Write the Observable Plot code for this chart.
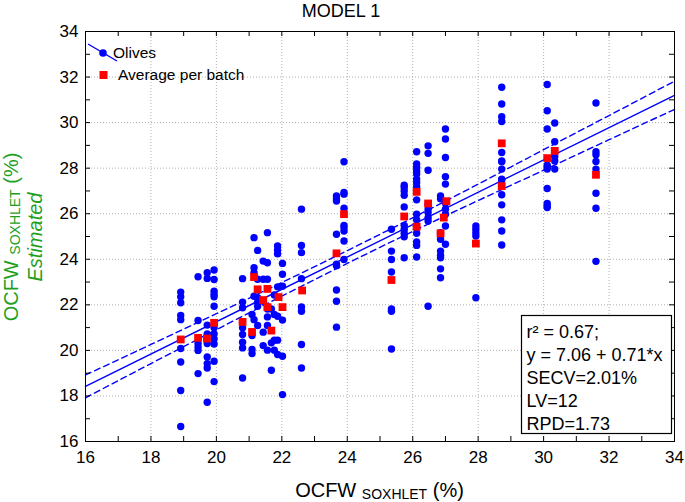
<!DOCTYPE html>
<html>
<head>
<meta charset="utf-8">
<script src="https://cdn.jsdelivr.net/npm/d3@7"></script>
<script src="https://cdn.jsdelivr.net/npm/@observablehq/plot@0.6"></script>
<style>
  html, body { margin: 0; padding: 0; background: #fff; }
  #chart { width: 685px; height: 502px; }
</style>
</head>
<body>
<div id="chart"></div>
<script>
// ---- Data ----
const title = "MODEL 1";
const xTicks = [16, 18, 20, 22, 24, 26, 28, 30, 32, 34];
const yTicks = [16, 18, 20, 22, 24, 26, 28, 30, 32, 34];
const minorTicks = [17, 18, 19, 20, 21, 22, 23, 24, 25, 26, 27, 28, 29, 30, 31, 32, 33];

// Olives: columns of [x, [y values]]
const olivesColumns = [
  [18.91, [22.56, 22.35, 22.09, 21.53, 21.35, 20.08, 19.49, 18.24, 16.66]],
  [19.44, [23.23, 21.31, 20.30, 20.15, 20.00, 18.98]],
  [19.72, [23.41, 23.16, 21.11, 20.72, 20.30, 19.71, 19.42, 19.23, 17.72]],
  [19.93, [23.53, 23.11, 22.60, 22.46, 22.35, 21.94, 20.99, 20.72, 20.50, 20.28, 19.52, 18.63]],
  [20.80, [23.15, 22.12, 21.87, 20.99, 20.70, 20.36, 20.11, 18.79]],
  [21.09, [21.58, 20.65, 20.04, 19.86]],
  [21.15, [24.95, 23.63, 23.41, 22.38, 21.35]],
  [21.26, [24.39, 23.12, 22.31, 22.12, 21.94, 21.09]],
  [21.43, [23.92, 23.12, 22.16, 20.80, 20.21]],
  [21.56, [25.17, 23.85, 23.12, 21.82, 21.47, 21.09, 20.01]],
  [21.68, [21.82, 20.33, 19.13]],
  [21.77, [22.43, 21.58, 20.45, 20.01]],
  [21.87, [24.58, 24.41, 24.24, 22.79, 21.50, 20.45, 19.82]],
  [22.02, [23.82, 23.34, 22.82, 21.33, 19.74, 18.06]],
  [22.60, [26.20, 24.61, 24.29, 23.15, 21.91, 21.72, 20.26, 19.23]],
  [23.67, [26.78, 26.66, 26.56, 25.10, 23.78, 23.72, 22.65, 22.16, 21.02]],
  [23.90, [28.28, 26.93, 26.86, 26.24, 25.49, 25.39, 25.24, 24.80, 23.99]],
  [25.35, [25.32, 24.36, 23.99, 23.44, 21.82, 21.72, 20.06]],
  [25.74, [27.25, 27.15, 27.00, 26.81, 26.30, 25.49, 25.32, 25.14, 24.99, 24.07]],
  [26.12, [28.72, 28.18, 28.03, 27.88, 27.74, 27.52, 27.37, 27.19, 26.61, 25.98, 25.73, 25.39, 25.14, 24.76, 24.61, 24.10]],
  [26.47, [28.98, 28.65, 27.91, 26.42, 26.20, 26.05, 25.83, 25.68, 21.94]],
  [26.85, [26.78, 26.66, 25.17, 24.88, 24.36, 24.17, 24.07, 23.58, 23.19]],
  [27.00, [29.72, 29.28, 28.47, 27.62, 27.30, 26.46, 26.20, 25.98, 25.46, 24.66]],
  [27.93, [25.46, 25.32, 25.17, 25.02, 22.31]],
  [28.72, [31.55, 30.82, 30.26, 30.05, 28.69, 28.32, 28.28, 27.96, 27.52, 27.48, 26.83, 26.39, 25.73, 25.24, 24.63]],
  [30.11, [31.67, 30.52, 29.72, 28.13, 28.03, 27.96, 27.11, 26.45, 26.34, 26.27]],
  [30.34, [29.98, 29.16, 28.50, 28.32, 27.96]],
  [31.60, [30.86, 28.72, 28.59, 28.29, 27.96, 26.90, 26.24, 23.91]]
];

// Average per batch [x, y]
const batchAverages = [
  [18.91, 20.48], [19.44, 20.55], [19.71, 20.52], [19.93, 21.21], [20.80, 21.25],
  [21.09, 20.81], [21.15, 23.22], [21.26, 22.68], [21.56, 22.70], [21.43, 22.21],
  [21.90, 22.34], [21.56, 21.90], [22.02, 21.90], [21.68, 20.87], [22.62, 22.63],
  [23.67, 24.26], [23.90, 25.98], [25.35, 23.09], [25.74, 25.88], [26.12, 26.96],
  [26.12, 25.43], [26.47, 26.45], [27.03, 26.55], [26.95, 25.83], [26.85, 25.14],
  [27.93, 24.69], [28.72, 29.09], [28.72, 27.21], [30.11, 28.44], [30.34, 28.76],
  [31.60, 27.71]
];

// Fitted line y = 7.06 + 0.71*x (end points) and its confidence band
const fitX = [16, 34];
const fitY = [18.42, 31.20];
const bandX = [16, 18, 20, 22, 24, 26, 28, 30, 32, 34];
const bandUpper = [18.92, 20.26, 21.61, 22.98, 24.38, 25.82, 27.30, 28.81, 30.31, 31.82];
const bandLower = [17.92, 19.42, 20.91, 22.38, 23.82, 25.22, 26.58, 27.91, 29.25, 30.58];

const statsLines = ["r² = 0.67;", "y = 7.06 + 0.71*x", "SECV=2.01%", "LV=12", "RPD=1.73"];
const legendLabels = ["Olives", "Average per batch"];
const axisTitleMain = "OCFW";
const axisTitleSub = "SOXHLET";
const axisTitleUnit = "(%)";
const yTitleSecond = "Estimated";

// ---- Build tables ----
const olives = olivesColumns.flatMap(([x, ys]) => ys.map(y => ({x, y})));
const averages = batchAverages.map(([x, y]) => ({x, y}));
const fit = fitX.map((x, i) => ({x, y: fitY[i]}));
const upper = bandX.map((x, i) => ({x, y: bandUpper[i]}));
const lower = bandX.map((x, i) => ({x, y: bandLower[i]}));

const W = 685, H = 502;
const mL = 85, mR = 11, mT = 31, mB = 61;
const innerW = W - mL - mR, innerH = H - mT - mB;
const BLUE = "#0000ff", RED = "#ff0000", GREEN = "#1ea01e";
const FONT = "'Liberation Sans', Arial, Helvetica, sans-serif";

const plot = Plot.plot({
  width: W, height: H,
  marginLeft: mL, marginRight: mR, marginTop: mT, marginBottom: mB,
  x: {domain: [16, 34], label: null},
  y: {domain: [16, 34], label: null},
  style: {fontFamily: FONT, fontSize: "16px", background: "white", color: "black"},
  marks: [
    Plot.gridX(xTicks, {stroke: "#b0b0b0", strokeOpacity: 1, strokeDasharray: "1,2"}),
    Plot.gridY(yTicks, {stroke: "#b0b0b0", strokeOpacity: 1, strokeDasharray: "1,2"}),
    Plot.dot(olives, {x: "x", y: "y", r: 3.7, fill: BLUE, stroke: "none"}),
    Plot.line(upper, {x: "x", y: "y", stroke: BLUE, strokeWidth: 1.4, strokeDasharray: "6,4", curve: "natural"}),
    Plot.line(lower, {x: "x", y: "y", stroke: BLUE, strokeWidth: 1.4, strokeDasharray: "6,4", curve: "natural"}),
    Plot.line(fit, {x: "x", y: "y", stroke: BLUE, strokeWidth: 1.4}),
    Plot.dot(averages, {x: "x", y: "y", symbol: "square", r: 4.4, fill: RED, stroke: "none"}),
    // inward ticks on all sides
    Plot.tickX(minorTicks, {x: d => d, insetTop: innerH - 5, stroke: "black"}),
    Plot.tickX(minorTicks, {x: d => d, insetBottom: innerH - 5, stroke: "black"}),
    Plot.tickY(minorTicks, {y: d => d, insetRight: innerW - 5, stroke: "black"}),
    Plot.tickY(minorTicks, {y: d => d, insetLeft: innerW - 5, stroke: "black"}),
    Plot.axisX(xTicks, {tickSize: 0, tickPadding: 9, fontSize: 17, label: null}),
    Plot.axisY(yTicks, {tickSize: 0, tickPadding: 7, fontSize: 17, label: null}),
    Plot.frame({stroke: "black"}),
    // statistics box
    Plot.frame({fill: "white", stroke: "black", strokeWidth: 1.2, insetLeft: 436, insetRight: 3, insetTop: 284, insetBottom: 8}),
    Plot.text([statsLines.join("\n")], {frameAnchor: "top-left", dx: 441, dy: 345, textAnchor: "start", lineAnchor: "middle", lineHeight: 1.27, fontSize: 18, fill: "black"})
  ]
});

document.getElementById("chart").appendChild(plot);

// ---- Title, axis titles, legend (annotations) ----
const svg = d3.select(plot);
svg.append("text")
  .attr("x", 341).attr("y", 17)
  .attr("text-anchor", "middle")
  .style("font-family", FONT).style("font-size", "18px")
  .text(title);

function titleText(sel) {
  sel.append("tspan").style("font-size", "20px").text(axisTitleMain + " ");
  sel.append("tspan").style("font-size", "14px").attr("dy", 2).text(axisTitleSub);
  sel.append("tspan").style("font-size", "20px").attr("dy", -2).text(" " + axisTitleUnit);
}
const xt = svg.append("text")
  .attr("x", mL + innerW / 2).attr("y", 497)
  .attr("text-anchor", "middle")
  .style("font-family", FONT).style("fill", "black");
titleText(xt);

const yt = svg.append("text")
  .attr("transform", `translate(18, ${mT + innerH / 2 + 1}) rotate(-90)`)
  .attr("text-anchor", "middle")
  .style("font-family", FONT).style("fill", GREEN);
titleText(yt);
svg.append("text")
  .attr("transform", `translate(42, ${mT + innerH / 2 + 1}) rotate(-90)`)
  .attr("text-anchor", "middle")
  .style("font-family", FONT).style("font-size", "20px").style("font-style", "italic").style("fill", GREEN)
  .text(yTitleSecond);

const lg = svg.append("g").style("font-family", FONT).style("font-size", "15.5px").attr("text-anchor", "start");
lg.append("line").attr("x1", 88).attr("y1", 44).attr("x2", 117).attr("y2", 61)
  .attr("stroke", BLUE).attr("stroke-width", 1.4);
lg.append("circle").attr("cx", 103).attr("cy", 53).attr("r", 3.8).attr("fill", BLUE);
lg.append("text").attr("x", 113).attr("y", 58).attr("text-anchor", "start").text(legendLabels[0]);
lg.append("rect").attr("x", 99.5).attr("y", 71).attr("width", 8).attr("height", 8).attr("fill", RED);
lg.append("text").attr("x", 118).attr("y", 80).attr("text-anchor", "start").text(legendLabels[1]);
</script>
</body>
</html>
